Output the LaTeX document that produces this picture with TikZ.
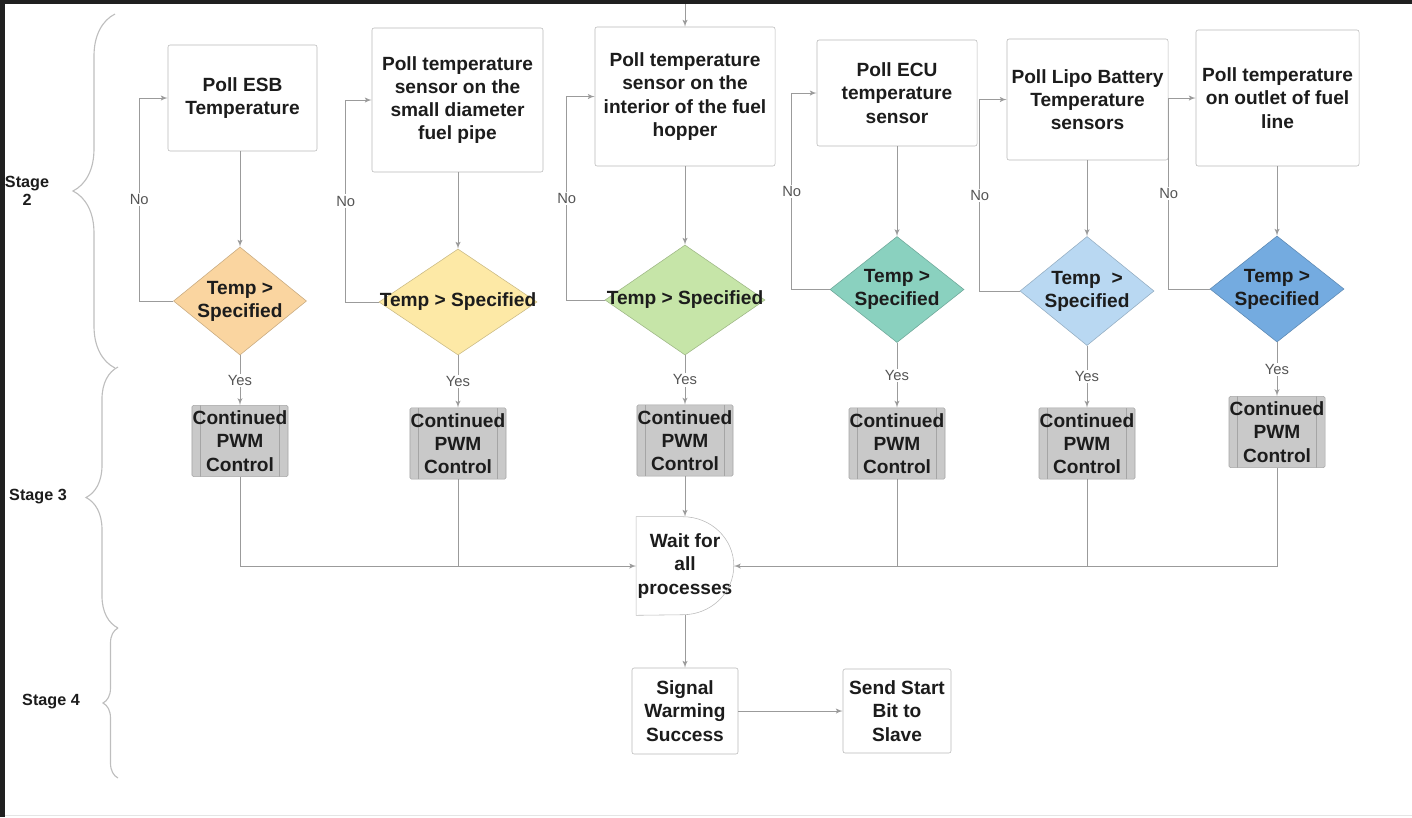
\documentclass[tikz,border=0pt]{standalone}
\usepackage{fontspec}
\setmainfont{Liberation Sans}
\usepackage{xcolor}
\usepackage{tikz}
\usetikzlibrary{shapes,arrows,positioning,calc,decorations.pathreplacing}
\definecolor{inkdark}{RGB}{28,28,28}
\definecolor{framedark}{RGB}{32,32,32}
\definecolor{boxgray}{RGB}{185,185,185}
\definecolor{linegray}{RGB}{155,155,155}
\definecolor{answergray}{RGB}{85,85,85}
\definecolor{bracegray}{RGB}{190,190,190}
\definecolor{pwmgray}{RGB}{201,201,201}
\definecolor{pwmedge}{RGB}{165,165,165}
\definecolor{esborange}{RGB}{250,213,160}
\definecolor{pipeyellow}{RGB}{253,233,166}
\definecolor{hoppergreen}{RGB}{198,229,168}
\definecolor{ecuteal}{RGB}{138,209,191}
\definecolor{lipoblue}{RGB}{185,216,242}
\definecolor{outletblue}{RGB}{116,171,224}
\tikzset{
    block/.style={rectangle, draw=boxgray, fill=white, rounded corners=1.5pt, align=center, text=inkdark, inner sep=2pt, font=\bfseries\fontsize{13.6}{16.5}\selectfont},
    decision/.style={diamond, draw=#1!80!black, fill=#1, inner sep=0pt, minimum width=3.35cm, minimum height=2.65cm},
    dtext/.style={align=center, inner sep=0pt, text=inkdark, font=\bfseries\fontsize{13.6}{16.5}\selectfont},
    pwm/.style={rectangle, draw=pwmedge, fill=pwmgray, rounded corners=1pt, minimum width=2.4cm, minimum height=1.78cm, inner sep=0pt, align=center, text=inkdark, font=\bfseries\fontsize{13.6}{16.5}\selectfont,
        path picture={\draw[pwmedge, line width=0.6pt] ([xshift=0.22cm]path picture bounding box.north west) -- ([xshift=0.22cm]path picture bounding box.south west) ([xshift=-0.22cm]path picture bounding box.north east) -- ([xshift=-0.22cm]path picture bounding box.south east);}},
    line/.style={draw=linegray, line width=0.7pt, -latex'},
    plain/.style={draw=linegray, line width=0.7pt},
    answer/.style={fill=white, inner sep=1pt, text=answergray, font=\fontsize{10.5}{12}\selectfont},
    stagebrace/.style={draw=bracegray, line width=0.8pt, decorate, decoration={brace, amplitude=#1}},
    stagelabel/.style={align=center, text=inkdark, font=\bfseries\fontsize{11.5}{13}\selectfont}
}

\begin{document}
\begin{tikzpicture}[x={(0.025cm,0)}, y={(0,-0.025cm)}]
    \useasboundingbox (0,0) rectangle (1412,817);
    % Window frame
    \fill[framedark] (0,0) rectangle (1412,4);
    \fill[framedark] (0,0) rectangle (5,817);
    \draw[gray!20, line width=0.8pt] (5,815.5) -- (1412,815.5);

    % Stage braces
    \draw[stagebrace=1.05cm] (115,368) -- (115,14);
    \draw[stagebrace=0.8cm] (118,628) -- (118,367);
    \draw[stagebrace=0.375cm] (118,778) -- (118,628);
    \node[stagelabel] (stage2) at (27,191) {Stage\\2};
    \node[stagelabel] (stage3) at (38,497) {Stage 3};
    \node[stagelabel] (stage4) at (51,702) {Stage 4};

    % Polling blocks
    \node[block, minimum width=3.725cm, minimum height=2.65cm] (esb) at (242.5,98) {Poll ESB\\Temperature};
    \node[block, minimum width=4.275cm, minimum height=3.6cm] (pipe) at (457.5,100) {Poll temperature\\sensor on the\\small diameter\\fuel pipe};
    \node[block, minimum width=4.5cm, minimum height=3.475cm] (hopper) at (685,96.5) {Poll temperature\\sensor on the\\interior of the fuel\\hopper};
    \node[block, minimum width=4cm, minimum height=2.65cm] (ecu) at (897,93) {Poll ECU\\temperature\\sensor};
    \node[block, minimum width=4.025cm, minimum height=3.025cm] (lipo) at (1087.5,99.5) {Poll Lipo Battery\\Temperature\\sensors};
    \node[block, minimum width=4.075cm, minimum height=3.4cm] (outlet) at (1277.5,98) {Poll temperature\\on outlet of fuel\\line};

    % Threshold checks
    \node[decision=esborange, minimum width=3.325cm, minimum height=2.7cm] (d1) at (240,301) {};
    \node[decision=pipeyellow, minimum width=3.95cm] (d2) at (458,302) {};
    \node[decision=hoppergreen, minimum width=4cm, minimum height=2.75cm] (d3) at (685,300) {};
    \node[decision=ecuteal] (d4) at (897,289.5) {};
    \node[decision=lipoblue, minimum height=2.725cm] (d5) at (1087,291) {};
    \node[decision=outletblue] (d6) at (1277,289) {};
    \node[dtext] (t1) at (d1) {Temp >\\Specified};
    \node[dtext] (t2) at (d2) {Temp > Specified};
    \node[dtext] (t3) at (d3) {Temp > Specified};
    \node[dtext] (t4) at (d4) {Temp >\\Specified};
    \node[dtext] (t5) at (d5) {Temp\ \ >\\Specified};
    \node[dtext] (t6) at (d6) {Temp >\\Specified};

    % PWM control
    \node[pwm] (p1) at (240,441) {Continued\\PWM\\Control};
    \node[pwm] (p2) at (458,443.5) {Continued\\PWM\\Control};
    \node[pwm] (p3) at (685,440.5) {Continued\\PWM\\Control};
    \node[pwm] (p4) at (897,443.5) {Continued\\PWM\\Control};
    \node[pwm] (p5) at (1087,443.5) {Continued\\PWM\\Control};
    \node[pwm] (p6) at (1277,432) {Continued\\PWM\\Control};

    % Join and finish
    \node[rectangle, inner sep=0pt, minimum width=2.425cm, minimum height=2.45cm, align=center, text=inkdark, font=\bfseries\fontsize{13.6}{16.5}\selectfont] (wait) at (685,566) {Wait for\\all\\processes};
    \draw[draw=boxgray, fill=none] (wait.north west) -- ([xshift=-1.275cm]wait.north east) arc[start angle=90, end angle=-90, x radius=1.275cm, y radius=1.225cm] -- (wait.south west) -- cycle;
    \node[block, minimum width=2.65cm, minimum height=2.15cm] (signal) at (685,711) {Signal\\Warming\\Success};
    \node[block, minimum width=2.7cm, minimum height=2.1cm] (send) at (897,711) {Send Start\\Bit to\\Slave};

    % Connections
    \coordinate (entry) at (685,4);
    \path[line] (entry) -- (hopper.north);
    \path[line] (esb.south -| d1) -- (d1);
    \path[line] (pipe.south -| d2) -- (d2);
    \path[line] (hopper) -- (d3);
    \path[line] (ecu) -- (d4);
    \path[line] (lipo.south -| d5) -- (d5);
    \path[line] (outlet.south -| d6) -- (d6);
    \path[line] (d1.west) -- ++(-34,0) |- node[answer, pos=0.25] {No} (esb.west);
    \path[line] (d2.west) -- ++(-33,0) |- node[answer, pos=0.25] {No} (pipe.west);
    \path[line] (d3.west) -- ++(-38,0) |- node[answer, pos=0.25] {No} (hopper.west);
    \path[line] (d4.west) -- ++(-38,0) |- node[answer, pos=0.25] {No} (ecu.west);
    \path[line] (d5.west) -- ++(-40,0) |- node[answer, pos=0.25] {No} (lipo.west);
    \path[line] (d6.west) -- ++(-41,0) |- node[answer, pos=0.25] {No} (outlet.west);
    \path[line] (d1) -- node[answer] {Yes} (p1);
    \path[line] (d2) -- node[answer] {Yes} (p2);
    \path[line] (d3) -- node[answer] {Yes} (p3);
    \path[line] (d4) -- node[answer] {Yes} (p4);
    \path[line] (d5) -- node[answer] {Yes} (p5);
    \path[line] (d6) -- node[answer] {Yes} (p6);
    \path[line] (p1.south) |- (wait.west);
    \path[plain] (p2.south) -- (p2.south |- wait.west);
    \path[line] (p3) -- (wait);
    \path[plain] (p4.south) -- (p4.south |- wait.east);
    \path[plain] (p5.south) -- (p5.south |- wait.east);
    \path[line] (p6.south) |- (wait.east);
    \path[line] (wait) -- (signal);
    \path[line] (signal) -- (send);
\end{tikzpicture}
\end{document}
